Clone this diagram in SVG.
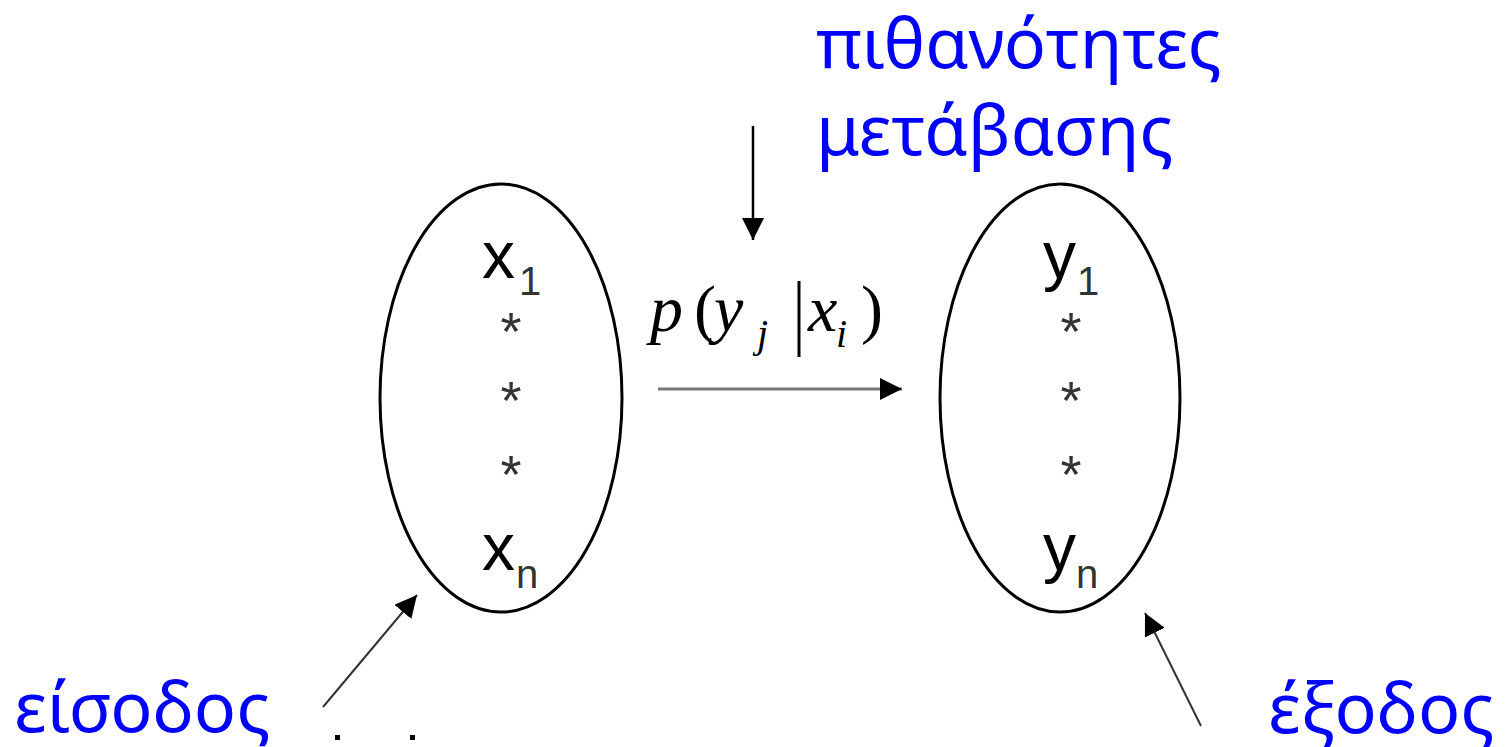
<svg xmlns="http://www.w3.org/2000/svg" width="1510" height="747" viewBox="0 0 1510 747">
<style>
.set{fill:none;stroke:#000;stroke-width:3}
.lab{font-family:"Noto Sans","Open Sans","DejaVu Sans",sans-serif;font-size:70px;fill:#0000FF}
.var{font-family:"Liberation Sans",Arial,sans-serif;font-size:66px;fill:#000}
.sub{font-family:"Liberation Sans",Arial,sans-serif;font-size:40px;fill:#333}
.ast{font-family:"Liberation Sans",Arial,sans-serif;font-size:54px;fill:#333;text-anchor:middle}
.math{font-family:"Liberation Serif","Times New Roman",serif;font-size:66px;fill:#000;font-style:italic}
.msub{font-family:"Liberation Serif","Times New Roman",serif;font-size:40px;fill:#000;font-style:italic}
.par{font-family:"Liberation Serif","Times New Roman",serif;font-size:66px;fill:#000}
</style>
<defs>
<marker id="ahb" viewBox="0 0 10 10" refX="10" refY="5" markerWidth="22" markerHeight="22" markerUnits="userSpaceOnUse" orient="auto">
<path d="M0,0 L10,5 L0,10 z" fill="#000"/>
</marker>
</defs>
<rect width="1510" height="747" fill="#fff"/>

<g id="title">
<text class="lab" x="816" y="68">πιθανότητες</text>
<text class="lab" x="816" y="155">μετάβασης</text>
</g>

<g id="input-set">
<ellipse class="set" cx="501" cy="398" rx="121" ry="214"/>
<text class="var" x="482" y="278">x</text><text class="sub" x="519" y="295">1</text>
<text class="ast" x="511" y="350">*</text>
<text class="ast" x="511" y="419">*</text>
<text class="ast" x="511" y="493">*</text>
<text class="var" x="482" y="570">x</text><text class="sub" x="516" y="588">n</text>
</g>

<g id="output-set">
<ellipse class="set" cx="1060" cy="398" rx="120" ry="214"/>
<text class="var" x="1043" y="278">y</text><text class="sub" x="1077" y="295">1</text>
<text class="ast" x="1071" y="350">*</text>
<text class="ast" x="1071" y="419">*</text>
<text class="ast" x="1071" y="493">*</text>
<text class="var" x="1043" y="570">y</text><text class="sub" x="1076" y="588">n</text>
</g>

<g id="formula">
<text class="math" x="650" y="331">p</text>
<text class="par" x="694" y="331">(</text>
<text class="math" x="714" y="331">y</text>
<text class="msub" x="757" y="347">j</text>
<line x1="799" y1="281" x2="799" y2="357" stroke="#000" stroke-width="3"/>
<text class="math" x="808" y="331">x</text>
<text class="msub" x="836" y="347">i</text>
<text class="par" x="861" y="331">)</text>
</g>

<g id="input-label">
<text class="lab" x="14" y="732">είσοδος</text>
</g>
<g id="output-label">
<text class="lab" x="1268" y="733">έξοδος</text>
</g>

<g id="connectors">
<line x1="658" y1="389" x2="902" y2="389" stroke="#777" stroke-width="3" marker-end="url(#ahb)"/>
<line x1="753" y1="126" x2="753" y2="240" stroke="#000" stroke-width="2.5" marker-end="url(#ahb)"/>
<line x1="323" y1="707" x2="417" y2="595" stroke="#333" stroke-width="2" marker-end="url(#ahb)"/>
<line x1="1201" y1="726" x2="1145" y2="613" stroke="#333" stroke-width="2" marker-end="url(#ahb)"/>
</g>

<g id="marks">
<rect x="335" y="735" width="5" height="5" fill="#000"/>
<rect x="410" y="735" width="5" height="5" fill="#000"/>
</g>
</svg>
